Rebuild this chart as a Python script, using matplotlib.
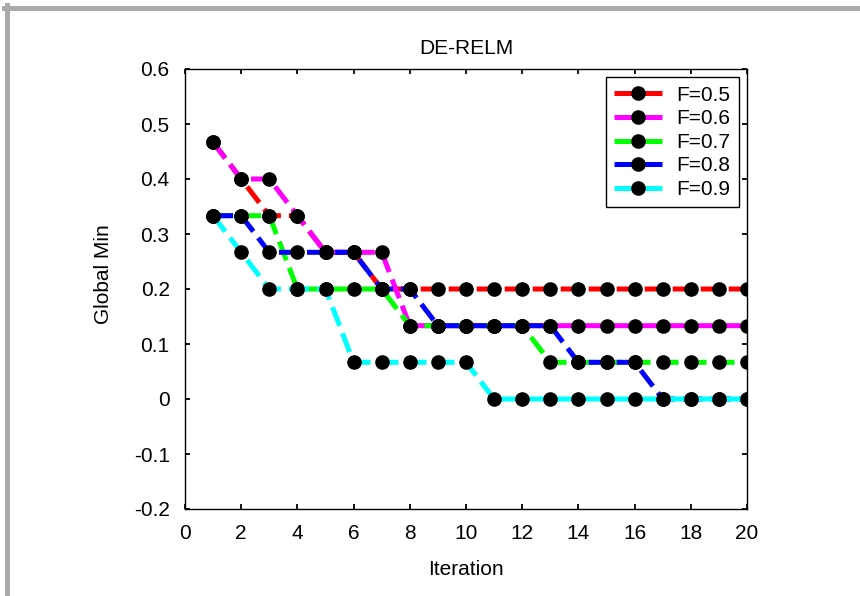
import matplotlib
matplotlib.use("Agg")
import matplotlib.pyplot as plt
from matplotlib.lines import Line2D

plt.rcParams['font.family'] = ['Liberation Sans', 'DejaVu Sans']

iterations = list(range(1, 21))
labels = ['F=0.5', 'F=0.6', 'F=0.7', 'F=0.8', 'F=0.9']
colors = ['#ff0000', '#ff00ff', '#00ff00', '#0000ff', '#00ffff']

f05 = [0.4667, 0.4, 0.3333, 0.3333, 0.2667, 0.2667, 0.2, 0.2, 0.2, 0.2,
       0.2, 0.2, 0.2, 0.2, 0.2, 0.2, 0.2, 0.2, 0.2, 0.2]
f06 = [0.4667, 0.4, 0.4, 0.3333, 0.2667, 0.2667, 0.2667, 0.1333, 0.1333, 0.1333,
       0.1333, 0.1333, 0.1333, 0.1333, 0.1333, 0.1333, 0.1333, 0.1333, 0.1333, 0.1333]
f07 = [0.3333, 0.3333, 0.3333, 0.2, 0.2, 0.2, 0.2, 0.1333, 0.1333, 0.1333,
       0.1333, 0.1333, 0.0667, 0.0667, 0.0667, 0.0667, 0.0667, 0.0667, 0.0667, 0.0667]
f08 = [0.3333, 0.3333, 0.2667, 0.2667, 0.2667, 0.2667, 0.2, 0.2, 0.1333, 0.1333,
       0.1333, 0.1333, 0.1333, 0.0667, 0.0667, 0.0667, 0.0, 0.0, 0.0, 0.0]
f09 = [0.3333, 0.2667, 0.2, 0.2, 0.2, 0.0667, 0.0667, 0.0667, 0.0667, 0.0667,
       0.0, 0.0, 0.0, 0.0, 0.0, 0.0, 0.0, 0.0, 0.0, 0.0]
series = [f05, f06, f07, f08, f09]

xticks = list(range(0, 21, 2))
yticks = [-0.2, -0.1, 0, 0.1, 0.2, 0.3, 0.4, 0.5, 0.6]
ytick_labels = ['-0.2', '-0.1', '0', '0.1', '0.2', '0.3', '0.4', '0.5', '0.6']

fs = 15

fig = plt.figure(figsize=(8.6, 5.96), dpi=100)
ax = fig.add_axes([185 / 860, 87 / 596, 562 / 860, 440 / 596])

for vals, col, lab in zip(series, colors, labels):
    ax.plot(iterations, vals, color=col, linestyle=(0, (4, 1.6)), linewidth=3.6,
            marker='o', markersize=9.5, markerfacecolor='k', markeredgecolor='k',
            label=lab)

ax.set_xlim(0, 20)
ax.set_ylim(-0.2, 0.6)
ax.set_xticks(xticks)
ax.set_yticks(yticks)
ax.set_yticklabels(ytick_labels)
ax.tick_params(direction='in', length=3.5, width=1.3, labelsize=fs,
               top=True, right=True, pad=11)
for sp in ax.spines.values():
    sp.set_linewidth(1.0)

ax.set_title('DE-RELM', fontsize=fs, pad=11)
ax.set_xlabel('Iteration', fontsize=fs, labelpad=12)
ax.set_ylabel('Global Min', fontsize=fs)
ax.yaxis.set_label_coords(-0.128, 0.533)

leg = ax.legend(loc='upper right', fontsize=fs, numpoints=1, handlelength=2.3,
                labelspacing=0.22, borderaxespad=0.4, handletextpad=0.7,
                borderpad=0.4, fancybox=False, framealpha=1)
leg.get_frame().set_edgecolor('k')
leg.get_frame().set_linewidth(1.0)

# grey frame at the top and left edge of the picture
fig.add_artist(Line2D([4 / 860, 1], [1 - 7.5 / 596, 1 - 7.5 / 596],
                      transform=fig.transFigure, color='#aaaaab', linewidth=3.6))
fig.add_artist(Line2D([6.5 / 860, 6.5 / 860], [0, 1 - 5 / 596],
                      transform=fig.transFigure, color='#aaaaab', linewidth=3.6))

fig.savefig('out.png', dpi=100)
